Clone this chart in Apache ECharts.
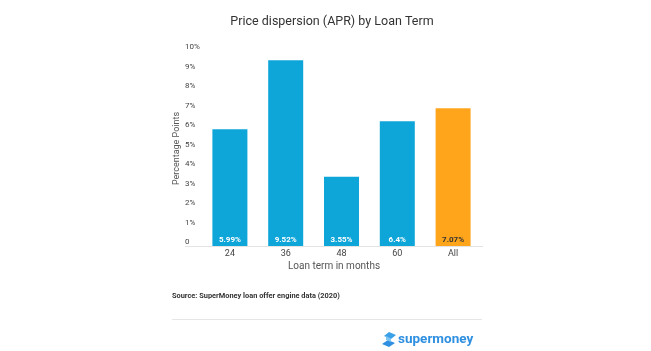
<!DOCTYPE html>
<html>
<head>
<meta charset="utf-8">
<script src="https://cdn.jsdelivr.net/npm/echarts@6/dist/echarts.min.js"></script>
<style>
  html, body { margin: 0; padding: 0; background: #fff; }
  #main { width: 651px; height: 351px; }
</style>
</head>
<body>
<div id="main"></div>
<script>
// data
var terms = ['24', '36', '48', '60', 'All'];
var dispersion = [5.99, 9.52, 3.55, 6.4, 7.07];
var barLabels = ['5.99%', '9.52%', '3.55%', '6.4%', '7.07%'];

var blue = '#0ea5d9';
var orange = '#ffa51c';

var chart = echarts.init(document.getElementById('main'));
chart.setOption({
  animation: false,
  textStyle: { fontFamily: 'Roboto' },
  title: {
    text: 'Price dispersion (APR) by Loan Term',
    left: 327,
    top: 10,
    textAlign: 'center',
    textStyle: { fontSize: 12.5, fontWeight: 'normal', color: '#333' }
  },
  grid: { left: 202, width: 279, top: 51, bottom: 105 },
  xAxis: {
    type: 'category',
    data: terms,
    axisLine: { show: false },
    axisTick: { show: false },
    axisLabel: { color: '#444', fontSize: 9, margin: 3 }
  },
  yAxis: {
    type: 'value',
    min: 0,
    max: 10,
    interval: 1,
    name: 'Percentage Points',
    nameLocation: 'middle',
    nameGap: 19,
    nameTextStyle: { color: '#555', fontSize: 9 },
    splitLine: { show: false },
    axisLine: { show: false },
    axisTick: { show: false },
    axisLabel: {
      color: '#444',
      fontSize: 8,
      align: 'left',
      verticalAlign: 'bottom',
      margin: 17,
      formatter: function (v) { return v === 0 ? '0' : v + '%'; }
    }
  },
  graphic: [
    { type: 'line', shape: { x1: 185, y1: 246.5, x2: 483, y2: 246.5 }, style: { stroke: '#e3e3e3', lineWidth: 1 } },
    { type: 'text', x: 334, y: 266, style: { text: 'Loan term in months', fill: '#555', fontSize: 10, fontFamily: 'Roboto', align: 'center', verticalAlign: 'middle' } },
    { type: 'text', x: 172, y: 296, style: { text: 'Source: SuperMoney loan offer engine data (2020)', fill: '#333', fontSize: 7.4, fontWeight: 'bold', fontFamily: 'Roboto', verticalAlign: 'middle' } },
    { type: 'line', shape: { x1: 172, y1: 319.5, x2: 482, y2: 319.5 }, style: { stroke: '#e6e6e6', lineWidth: 1 } },
    // logo mark
    { type: 'polygon', shape: { points: [[389, 332], [396, 335], [391, 339], [384, 336]] }, style: { fill: '#3aa0e8' } },
    { type: 'polygon', shape: { points: [[388, 340], [395, 343], [389, 347], [382, 344]] }, style: { fill: '#2f8fe0' } },
    { type: 'polygon', shape: { points: [[386, 336], [391, 339], [391, 342], [386, 340]] }, style: { fill: '#7cc4f2' } },
    { type: 'text', x: 398, y: 340, style: { text: 'supermoney', fill: '#2f8fe0', fontSize: 13.5, fontWeight: 'bold', fontFamily: 'Roboto', verticalAlign: 'middle' } }
  ],
  series: [{
    type: 'bar',
    barWidth: 35,
    data: dispersion.map(function (v, i) {
      var last = i === dispersion.length - 1;
      return {
        value: v,
        itemStyle: { color: last ? orange : blue },
        label: { color: last ? '#333' : '#fff' }
      };
    }),
    label: {
      show: true,
      position: 'insideBottom',
      distance: 2,
      fontSize: 8,
      fontWeight: 'bold',
      formatter: function (p) { return barLabels[p.dataIndex]; }
    }
  }]
});
</script>
</body>
</html>
